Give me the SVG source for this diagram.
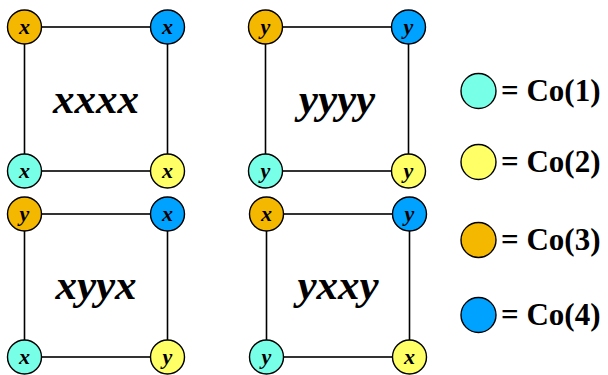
<svg xmlns="http://www.w3.org/2000/svg" width="608" height="375" viewBox="0 0 608 375">
<defs>
<circle id="nd" r="17" stroke="#000" stroke-width="1.4"/>
</defs>
<rect width="608" height="375" fill="#fff"/>
<g id="connectors" stroke="#000" stroke-width="1.6" fill="none">
<rect x="24.5" y="27" width="143" height="144"/>
<rect x="265.5" y="27" width="143" height="144"/>
<rect x="24.5" y="214" width="143" height="143"/>
<rect x="266.5" y="214" width="143" height="143"/>
</g>
<g id="sq1">
<text font-family="Liberation Serif" font-style="italic" font-weight="bold" text-anchor="middle" font-size="43" x="96" y="113">xxxx</text>
<g id="sq1-tl"><use href="#nd" x="24.5" y="27" fill="#F5B800"/><text font-family="Liberation Serif" font-style="italic" font-weight="bold" text-anchor="middle" font-size="22" x="24.5" y="34">x</text></g>
<g id="sq1-tr"><use href="#nd" x="167.5" y="27" fill="#00A2FF"/><text font-family="Liberation Serif" font-style="italic" font-weight="bold" text-anchor="middle" font-size="22" x="167.5" y="34">x</text></g>
<g id="sq1-bl"><use href="#nd" x="24.5" y="171" fill="#78FFE8"/><text font-family="Liberation Serif" font-style="italic" font-weight="bold" text-anchor="middle" font-size="22" x="24.5" y="178">x</text></g>
<g id="sq1-br"><use href="#nd" x="167.5" y="171" fill="#FFFF66"/><text font-family="Liberation Serif" font-style="italic" font-weight="bold" text-anchor="middle" font-size="22" x="167.5" y="178">x</text></g>
</g>
<g id="sq2">
<text font-family="Liberation Serif" font-style="italic" font-weight="bold" text-anchor="middle" font-size="43" x="337" y="113">yyyy</text>
<g id="sq2-tl"><use href="#nd" x="265.5" y="27" fill="#F5B800"/><text font-family="Liberation Serif" font-style="italic" font-weight="bold" text-anchor="middle" font-size="22" x="265.5" y="34">y</text></g>
<g id="sq2-tr"><use href="#nd" x="408.5" y="27" fill="#00A2FF"/><text font-family="Liberation Serif" font-style="italic" font-weight="bold" text-anchor="middle" font-size="22" x="408.5" y="34">y</text></g>
<g id="sq2-bl"><use href="#nd" x="265.5" y="171" fill="#78FFE8"/><text font-family="Liberation Serif" font-style="italic" font-weight="bold" text-anchor="middle" font-size="22" x="265.5" y="178">y</text></g>
<g id="sq2-br"><use href="#nd" x="408.5" y="171" fill="#FFFF66"/><text font-family="Liberation Serif" font-style="italic" font-weight="bold" text-anchor="middle" font-size="22" x="408.5" y="178">y</text></g>
</g>
<g id="sq3">
<text font-family="Liberation Serif" font-style="italic" font-weight="bold" text-anchor="middle" font-size="43" x="96" y="299">xyyx</text>
<g id="sq3-tl"><use href="#nd" x="24.5" y="214" fill="#F5B800"/><text font-family="Liberation Serif" font-style="italic" font-weight="bold" text-anchor="middle" font-size="22" x="24.5" y="221">y</text></g>
<g id="sq3-tr"><use href="#nd" x="167.5" y="214" fill="#00A2FF"/><text font-family="Liberation Serif" font-style="italic" font-weight="bold" text-anchor="middle" font-size="22" x="167.5" y="221">x</text></g>
<g id="sq3-bl"><use href="#nd" x="24.5" y="357" fill="#78FFE8"/><text font-family="Liberation Serif" font-style="italic" font-weight="bold" text-anchor="middle" font-size="22" x="24.5" y="364">x</text></g>
<g id="sq3-br"><use href="#nd" x="167.5" y="357" fill="#FFFF66"/><text font-family="Liberation Serif" font-style="italic" font-weight="bold" text-anchor="middle" font-size="22" x="167.5" y="364">y</text></g>
</g>
<g id="sq4">
<text font-family="Liberation Serif" font-style="italic" font-weight="bold" text-anchor="middle" font-size="43" x="338" y="299">yxxy</text>
<g id="sq4-tl"><use href="#nd" x="266.5" y="214" fill="#F5B800"/><text font-family="Liberation Serif" font-style="italic" font-weight="bold" text-anchor="middle" font-size="22" x="266.5" y="221">x</text></g>
<g id="sq4-tr"><use href="#nd" x="409.5" y="214" fill="#00A2FF"/><text font-family="Liberation Serif" font-style="italic" font-weight="bold" text-anchor="middle" font-size="22" x="409.5" y="221">y</text></g>
<g id="sq4-bl"><use href="#nd" x="266.5" y="357" fill="#78FFE8"/><text font-family="Liberation Serif" font-style="italic" font-weight="bold" text-anchor="middle" font-size="22" x="266.5" y="364">y</text></g>
<g id="sq4-br"><use href="#nd" x="409.5" y="357" fill="#FFFF66"/><text font-family="Liberation Serif" font-style="italic" font-weight="bold" text-anchor="middle" font-size="22" x="409.5" y="364">x</text></g>
</g>
<g id="legend">
<g id="lg1"><circle cx="478.5" cy="91" r="17.5" stroke="#000" stroke-width="1.4" fill="#78FFE8"/><text font-family="Liberation Serif" font-weight="bold" font-size="31" x="501" y="101">= Co(1)</text></g>
<g id="lg2"><circle cx="478.5" cy="162" r="17.5" stroke="#000" stroke-width="1.4" fill="#FFFF66"/><text font-family="Liberation Serif" font-weight="bold" font-size="31" x="501" y="172">= Co(2)</text></g>
<g id="lg3"><circle cx="478.5" cy="240" r="17.5" stroke="#000" stroke-width="1.4" fill="#F5B800"/><text font-family="Liberation Serif" font-weight="bold" font-size="31" x="501" y="250">= Co(3)</text></g>
<g id="lg4"><circle cx="478.5" cy="315" r="17.5" stroke="#000" stroke-width="1.4" fill="#00A2FF"/><text font-family="Liberation Serif" font-weight="bold" font-size="31" x="501" y="325">= Co(4)</text></g>
</g>
</svg>
